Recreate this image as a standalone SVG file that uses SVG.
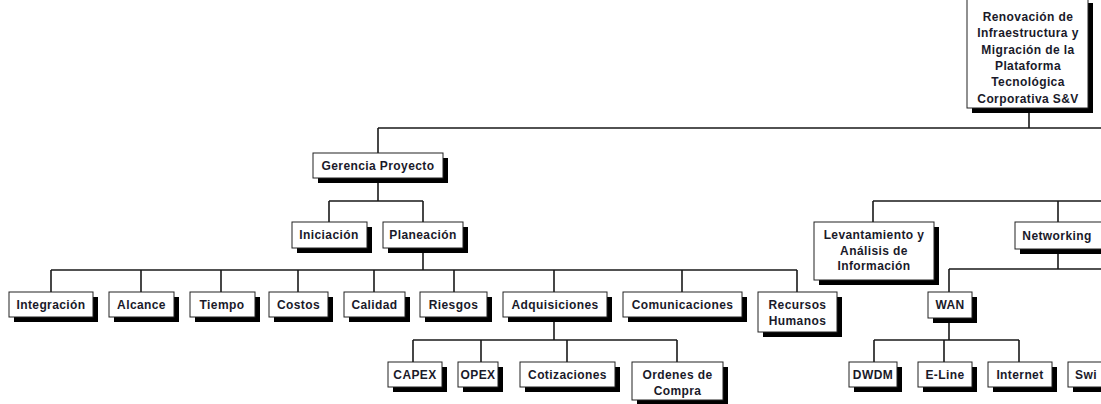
<svg xmlns="http://www.w3.org/2000/svg" width="1101" height="404" viewBox="0 0 1101 404">
<defs>
<style>
.c{fill:none;stroke:#1a1a1a;stroke-width:1.6}
.sh{fill:#000}
.bx{fill:#fff;stroke:#222;stroke-width:1}
.t{font-family:"Liberation Sans",Arial,sans-serif;font-size:12px;font-weight:bold;fill:#1a1a2a;text-anchor:middle;letter-spacing:0.4px}
</style>
</defs>
<rect width="1101" height="404" fill="#fff"/>
<g id="connectors">
<path class="c" d="M1029 108V128M378 128H1101M378 128V153"/>
<path class="c" d="M378 178V201M329 201H423M329 201V222M423 201V222"/>
<path class="c" d="M423 248V270M51 270H797M51 270V292M141 270V292M221 270V292M298 270V292M374 270V292M454 270V292M554 270V292M682 270V292M797 270V292"/>
<path class="c" d="M554 317V340M413 340H677M413 340V362M481 340V362M567 340V362M677 340V362"/>
<path class="c" d="M873 201H1101M873 201V222M1058 201V222"/>
<path class="c" d="M1058 249V269M949 269H1101M949 269V292"/>
<path class="c" d="M949 318V340M874 340H1019M874 340V362M944 340V362M1019 340V362"/>
</g>
<g id="root"><rect class="sh" x="972" y="3" width="121" height="110"/><rect class="bx" x="967" y="-2" width="121" height="110"/>
<text class="t" x="1028" y="21">Renovación de</text><text class="t" x="1028" y="37">Infraestructura y</text><text class="t" x="1028" y="54">Migración de la</text><text class="t" x="1028" y="70">Plataforma</text><text class="t" x="1028" y="86">Tecnológica</text><text class="t" x="1028" y="103">Corporativa S&amp;V</text></g>
<g id="gerencia"><rect class="sh" x="318" y="158" width="130" height="25"/><rect class="bx" x="313" y="153" width="130" height="25"/><text class="t" x="378" y="170">Gerencia Proyecto</text></g>
<g id="iniciacion"><rect class="sh" x="297" y="227" width="75" height="26"/><rect class="bx" x="292" y="222" width="75" height="26"/><text class="t" x="329" y="239">Iniciación</text></g>
<g id="planeacion"><rect class="sh" x="388" y="227" width="80" height="26"/><rect class="bx" x="383" y="222" width="80" height="26"/><text class="t" x="423" y="239">Planeación</text></g>
<g id="integracion"><rect class="sh" x="14" y="297" width="84" height="25"/><rect class="bx" x="9" y="292" width="84" height="25"/><text class="t" x="51" y="309">Integración</text></g>
<g id="alcance"><rect class="sh" x="114" y="297" width="65" height="25"/><rect class="bx" x="109" y="292" width="65" height="25"/><text class="t" x="141.5" y="309">Alcance</text></g>
<g id="tiempo"><rect class="sh" x="195" y="297" width="65" height="25"/><rect class="bx" x="190" y="292" width="65" height="25"/><text class="t" x="222" y="309">Tiempo</text></g>
<g id="costos"><rect class="sh" x="274" y="297" width="59" height="25"/><rect class="bx" x="269" y="292" width="59" height="25"/><text class="t" x="298.5" y="309">Costos</text></g>
<g id="calidad"><rect class="sh" x="349" y="297" width="61" height="25"/><rect class="bx" x="344" y="292" width="61" height="25"/><text class="t" x="374.5" y="309">Calidad</text></g>
<g id="riesgos"><rect class="sh" x="425" y="297" width="67" height="25"/><rect class="bx" x="420" y="292" width="67" height="25"/><text class="t" x="453.5" y="309">Riesgos</text></g>
<g id="adquisiciones"><rect class="sh" x="508" y="297" width="104" height="25"/><rect class="bx" x="503" y="292" width="104" height="25"/><text class="t" x="555" y="309">Adquisiciones</text></g>
<g id="comunicaciones"><rect class="sh" x="628" y="297" width="119" height="25"/><rect class="bx" x="623" y="292" width="119" height="25"/><text class="t" x="682.5" y="309">Comunicaciones</text></g>
<g id="recursos"><rect class="sh" x="763" y="297" width="79" height="40"/><rect class="bx" x="758" y="292" width="79" height="40"/><text class="t" x="797.5" y="309">Recursos</text><text class="t" x="797.5" y="325">Humanos</text></g>
<g id="levantamiento"><rect class="sh" x="819" y="227" width="120" height="58"/><rect class="bx" x="814" y="222" width="120" height="58"/><text class="t" x="874" y="239">Levantamiento y</text><text class="t" x="874" y="255">Análisis de</text><text class="t" x="874" y="270">Información</text></g>
<g id="networking"><rect class="sh" x="1020" y="227" width="100" height="27"/><rect class="bx" x="1015" y="222" width="100" height="27"/><text class="t" x="1057" y="240">Networking</text></g>
<g id="wan"><rect class="sh" x="933" y="297" width="44" height="26"/><rect class="bx" x="928" y="292" width="44" height="26"/><text class="t" x="950" y="309">WAN</text></g>
<g id="capex"><rect class="sh" x="393" y="367" width="54" height="25"/><rect class="bx" x="388" y="362" width="54" height="25"/><text class="t" x="415" y="379">CAPEX</text></g>
<g id="opex"><rect class="sh" x="463" y="367" width="40" height="25"/><rect class="bx" x="458" y="362" width="40" height="25"/><text class="t" x="478" y="379">OPEX</text></g>
<g id="cotizaciones"><rect class="sh" x="525" y="367" width="95" height="25"/><rect class="bx" x="520" y="362" width="95" height="25"/><text class="t" x="567.5" y="379">Cotizaciones</text></g>
<g id="ordenes"><rect class="sh" x="637" y="367" width="91" height="38"/><rect class="bx" x="632" y="362" width="91" height="38"/><text class="t" x="677.5" y="379">Ordenes de</text><text class="t" x="677.5" y="395">Compra</text></g>
<g id="dwdm"><rect class="sh" x="854" y="367" width="48" height="25"/><rect class="bx" x="849" y="362" width="48" height="25"/><text class="t" x="873" y="379">DWDM</text></g>
<g id="eline"><rect class="sh" x="923" y="367" width="54" height="25"/><rect class="bx" x="918" y="362" width="54" height="25"/><text class="t" x="945" y="379">E-Line</text></g>
<g id="internet"><rect class="sh" x="993" y="367" width="64" height="25"/><rect class="bx" x="988" y="362" width="64" height="25"/><text class="t" x="1020" y="379">Internet</text></g>
<g id="switching"><rect class="sh" x="1073" y="367" width="70" height="25"/><rect class="bx" x="1068" y="362" width="70" height="25"/><text class="t" x="1075" y="379" style="text-anchor:start">Swi</text></g>
</svg>
